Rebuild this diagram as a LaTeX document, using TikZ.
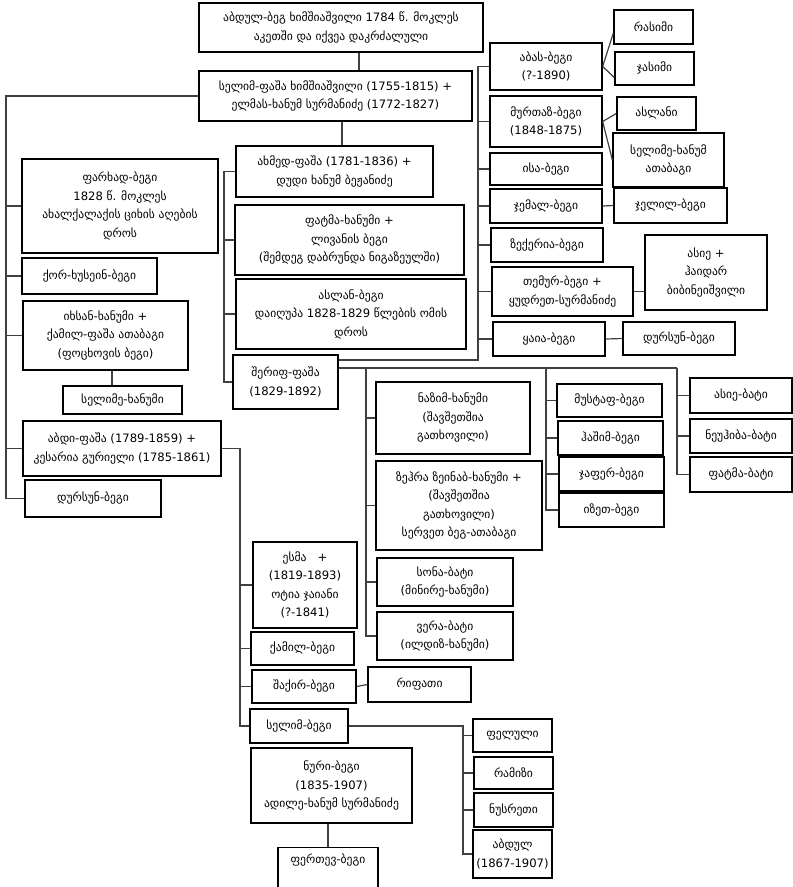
\documentclass[tikz,border=0pt]{standalone}
\usepackage{fontspec}
\setmainfont{DejaVu Sans}

\begin{document}
\begin{tikzpicture}[x=1pt,y=-1pt,
  pbox/.style={draw=black,line width=1.3pt,align=center,inner sep=2pt,font=\fontsize{11.6}{18.5}\selectfont},
  lnk/.style={draw=black!75,line width=1.2pt}]
\useasboundingbox (0,0) rectangle (793,887);
\clip (0,0) rectangle (793,887);
\fill[white] (0,0) rectangle (793,887);
\node[pbox,minimum width=284pt,minimum height=49pt] (n0) at (341,27.5) {აბდულ-ბეგ ხიმშიაშვილი 1784 წ. მოკლეს\\აკეთში და იქვეა დაკრძალული};
\node[pbox,minimum width=273pt,minimum height=50pt] (n1) at (335.5,96) {სელიმ-ფაშა ხიმშიაშვილი (1755-1815) +\\ელმას-ხანუმ სურმანიძე (1772-1827)};
\node[pbox,minimum width=196pt,minimum height=94pt] (n10) at (120,206) {ფარხად-ბეგი\\1828 წ. მოკლეს\\ახალქალაქის ციხის აღების\\დროს};
\node[pbox,minimum width=135pt,minimum height=36pt] (n11) at (89.5,276) {ქორ-ხუსეინ-ბეგი};
\node[pbox,minimum width=165pt,minimum height=69pt] (n12) at (105.5,335.5) {იხსან-ხანუმი +\\ქამილ-ფაშა ათაბაგი\\(ფოცხოვის ბეგი)};
\node[pbox,minimum width=119pt,minimum height=28pt] (n12a) at (122.5,400) {სელიმე-ხანუმი};
\node[pbox,minimum width=198pt,minimum height=55pt] (n13) at (122,448.5) {აბდი-ფაშა (1789-1859) +\\კესარია გურიელი (1785-1861)};
\node[pbox,minimum width=136pt,minimum height=37pt] (n14) at (93,498.5) {დურსუნ-ბეგი};
\node[pbox,minimum width=197pt,minimum height=51pt] (n15) at (334.5,171.5) {ახმედ-ფაშა (1781-1836) +\\დუდი ხანუმ ბეჟანიძე};
\node[pbox,minimum width=229pt,minimum height=70pt] (n150) at (349.5,240) {ფატმა-ხანუმი +\\ლივანის ბეგი\\(შემდეგ დაბრუნდა ნიგაზეულში)};
\node[pbox,minimum width=230pt,minimum height=70pt] (n151) at (351,314) {ასლან-ბეგი\\დაიღუპა 1828-1829 წლების ომის\\დროს};
\node[pbox,minimum width=105pt,minimum height=54pt] (n152) at (285.5,382) {შერიფ-ფაშა\\(1829-1892)};
\node[pbox,minimum width=112pt,minimum height=47pt] (s1) at (546,66.5) {აბას-ბეგი\\(?-1890)};
\node[pbox,minimum width=112pt,minimum height=51pt] (s2) at (546,121.5) {მურთაზ-ბეგი\\(1848-1875)};
\node[pbox,minimum width=112pt,minimum height=32pt] (s3) at (546,169) {ისა-ბეგი};
\node[pbox,minimum width=112pt,minimum height=34pt] (s4) at (546,206) {ჯემალ-ბეგი};
\node[pbox,minimum width=112pt,minimum height=34pt] (s5) at (547,245) {ზექერია-ბეგი};
\node[pbox,minimum width=141pt,minimum height=49pt] (s6) at (562.5,291.5) {თემურ-ბეგი +\\ყუდრეთ-სურმანიძე};
\node[pbox,minimum width=112pt,minimum height=34pt] (s7) at (549,339) {ყაია-ბეგი};
\node[pbox,minimum width=79pt,minimum height=34pt] (s1a) at (653.5,27) {რასიმი};
\node[pbox,minimum width=79pt,minimum height=33pt] (s1b) at (654.5,68.5) {ჯასიმი};
\node[pbox,minimum width=79pt,minimum height=33pt] (s2a) at (656.5,113.5) {ასლანი};
\node[pbox,minimum width=111pt,minimum height=54pt] (s2b) at (668.5,160) {სელიმე-ხანუმ\\ათაბაგი};
\node[pbox,minimum width=113pt,minimum height=35pt] (s4a) at (670.5,205.5) {ჯელილ-ბეგი};
\node[pbox,minimum width=122pt,minimum height=75pt] (s6a) at (706,272.5) {ასიე +\\ჰაიდარ\\ბიბინეიშვილი};
\node[pbox,minimum width=112pt,minimum height=33pt] (s7a) at (679,338.5) {დურსუნ-ბეგი};
\node[pbox,minimum width=154pt,minimum height=72pt] (d1) at (453,418) {ნაზიმ-ხანუმი\\(შავშეთშია\\გათხოვილი)};
\node[pbox,minimum width=166pt,minimum height=89pt] (d2) at (459,505.5) {ზეჰრა ზეინაბ-ხანუმი +\\(შავშეთშია\\გათხოვილი)\\სერვეთ ბეგ-ათაბაგი};
\node[pbox,minimum width=136pt,minimum height=48pt] (d3) at (445,582) {სონა-ბატი\\(მინირე-ხანუმი)};
\node[pbox,minimum width=136pt,minimum height=48pt] (d4) at (445,636) {ვერა-ბატი\\(ილდიზ-ხანუმი)};
\node[pbox,minimum width=105pt,minimum height=33pt] (m1) at (609.5,400.5) {მუსტაფ-ბეგი};
\node[pbox,minimum width=105pt,minimum height=34pt] (m2) at (610.5,438) {ჰაშიმ-ბეგი};
\node[pbox,minimum width=105pt,minimum height=34pt] (m3) at (611.5,474) {ჯაფერ-ბეგი};
\node[pbox,minimum width=105pt,minimum height=34pt] (m4) at (611.5,510) {იზეთ-ბეგი};
\node[pbox,minimum width=102pt,minimum height=35pt] (b1) at (741,395.5) {ასიე-ბატი};
\node[pbox,minimum width=102pt,minimum height=34pt] (b2) at (741,436) {ნეუჰიბა-ბატი};
\node[pbox,minimum width=102pt,minimum height=35pt] (b3) at (741,474.5) {ფატმა-ბატი};
\node[pbox,minimum width=104pt,minimum height=86pt] (a1) at (305,585) {ესმა~~~+\\(1819-1893)\\ოტია ჯაიანი\\(?-1841)};
\node[pbox,minimum width=103pt,minimum height=33pt] (a2) at (302.5,648.5) {ქამილ-ბეგი};
\node[pbox,minimum width=104pt,minimum height=33pt] (a3) at (304,686.5) {შაქირ-ბეგი};
\node[pbox,minimum width=103pt,minimum height=35pt] (a3a) at (419.5,684.5) {რიფათი};
\node[pbox,minimum width=98pt,minimum height=34pt] (a4) at (299,726) {სელიმ-ბეგი};
\node[pbox,minimum width=79pt,minimum height=33pt] (a4a) at (512.5,735.5) {ფელული};
\node[pbox,minimum width=79pt,minimum height=32pt] (a4b) at (513.5,773) {რამიზი};
\node[pbox,minimum width=79pt,minimum height=34pt] (a4c) at (513.5,810) {ნუსრეთი};
\node[pbox,minimum width=79pt,minimum height=48pt] (a4d) at (512.5,854) {აბდულ\\(1867-1907)};
\node[pbox,minimum width=161pt,minimum height=75pt] (a5) at (331.5,785.5) {ნური-ბეგი\\(1835-1907)\\ადილე-ხანუმ სურმანიძე};
\node[pbox,minimum width=100pt,anchor=north,inner ysep=6pt,text depth=40pt] (a5a) at (328,847) {ფერთევ-ბეგი};
\coordinate (c0) at (359,0);
\coordinate (c1) at (342,0);
\coordinate (cL) at (6,0);
\coordinate (cI) at (112,0);
\coordinate (cH) at (224,0);
\coordinate (cR) at (478,360);
\coordinate (cN) at (366,368);
\coordinate (cM) at (546,368);
\coordinate (cB) at (677,368);
\coordinate (cA) at (240,0);
\coordinate (cS) at (463,0);
\draw[lnk] (n0.south -| c0) -- (n1.north -| c0);
\draw[lnk] (n1.south -| c1) -- (n15.north -| c1);
\draw[lnk] (n1.west) -| (cL |- n14.west) -- (n14.west);
\foreach \k in {n10,n11,n12,n13} \draw[lnk] (cL |- \k.west) -- (\k.west);
\draw[lnk] (n12.south -| cI) -- (n12a.north -| cI);
\draw[lnk] (n15.west) -| (cH |- n152.west) -- (n152.west);
\foreach \k in {n150,n151} \draw[lnk] (cH |- \k.west) -- (\k.west);
\draw[lnk] (n152.east |- cR) -- (cR) |- (s1.west);
\foreach \k in {s2,s3,s4,s5,s6,s7} \draw[lnk] (cR |- \k.west) -- (\k.west);
\draw[lnk] (s1.east) -- ([yshift=-6pt]s1a.west);
\draw[lnk] (s1.east) -- ([yshift=-9pt]s1b.west);
\draw[lnk] (s2.east) -- (s2a.west);
\draw[lnk] (s2.east) -- (s2b.west);
\draw[lnk] (s4.east) -- (s4a.west);
\draw[lnk] (s6.east) -- (s6.east -| s6a.west);
\draw[lnk] (s7.east) -- (s7a.west);
\draw[lnk] (n152.east |- cN) -- (cB);
\draw[lnk] (cN) |- (d4.west);
\foreach \k in {d1,d2,d3} \draw[lnk] (cN |- \k.west) -- (\k.west);
\draw[lnk] (cM) |- (m4.west);
\foreach \k in {m1,m2,m3} \draw[lnk] (cM |- \k.west) -- (\k.west);
\draw[lnk] (cB) |- (b3.west);
\foreach \k in {b1,b2} \draw[lnk] (cB |- \k.west) -- (\k.west);
\draw[lnk] (n13.east) -| (cA |- a4.west) -- (a4.west);
\foreach \k in {a1,a2,a3} \draw[lnk] (cA |- \k.west) -- (\k.west);
\draw[lnk] (a3.east) -- (a3a.west);
\draw[lnk] (a4.east) -| (cS |- a4d.west) -- (a4d.west);
\foreach \k in {a4a,a4b,a4c} \draw[lnk] (cS |- \k.west) -- (\k.west);
\draw[lnk] (a5.south -| a5a.north) -- (a5a.north);
\end{tikzpicture}
\end{document}
